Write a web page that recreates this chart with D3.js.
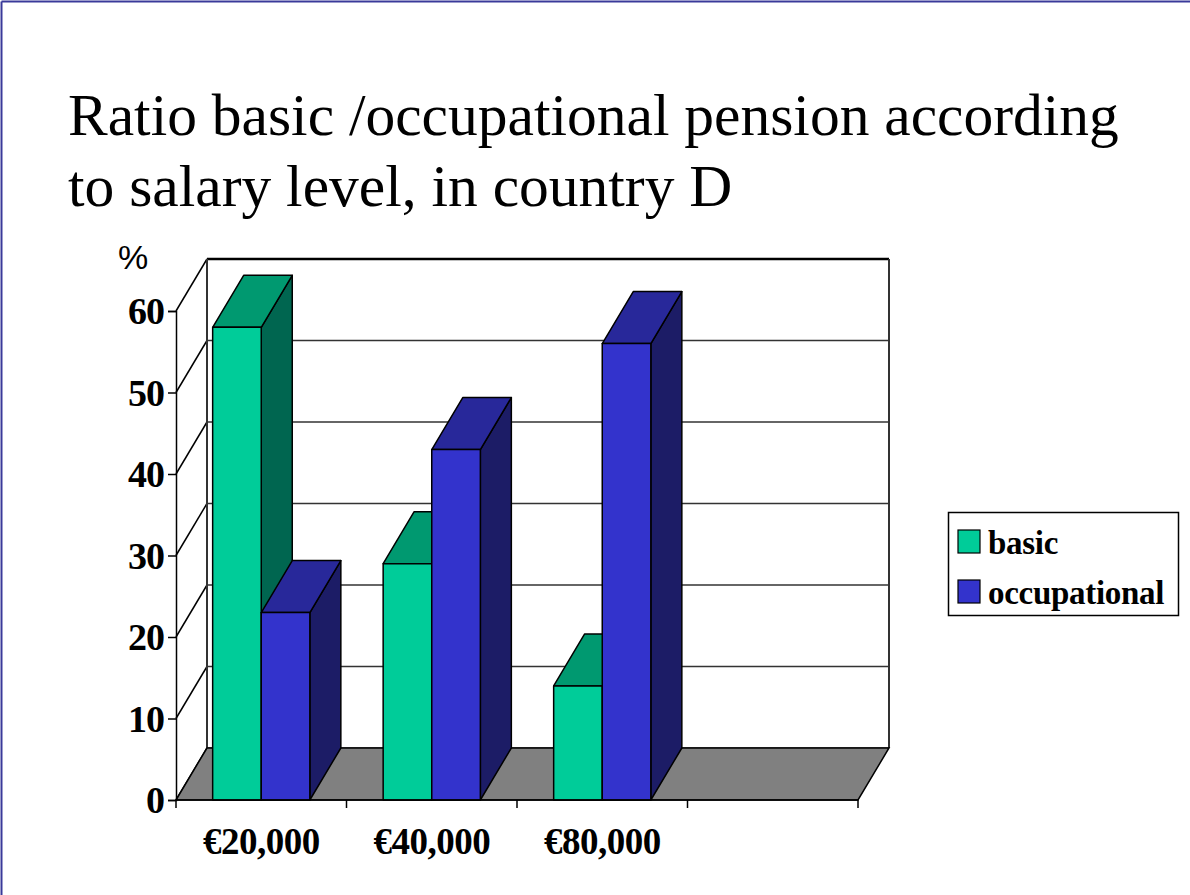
<!DOCTYPE html>
<html><head><meta charset="utf-8">
<script src="https://cdn.jsdelivr.net/npm/d3@7"></script>
<style>html,body{margin:0;padding:0;background:#fff;}svg{display:block;}</style>
</head><body>
<svg id="chart" width="1190" height="895"></svg>
<script>
const categories = ["€20,000", "€40,000", "€80,000", ""];
const seriesNames = ["basic", "occupational"];
const basicValues = [58, 29, 14, null];
const occupationalValues = [23, 43, 56, null];
const yTicks = [0, 10, 20, 30, 40, 50, 60];
const titleLines = ["Ratio basic /occupational pension according", "to salary level, in country D"];

const colors = {
  basic: {front: "#00CC99", top: "#009970", side: "#006650"},
  occupational: {front: "#3333CC", top: "#28289A", side: "#1C1C66"}
};

const svg = d3.select("#chart");
const serif = "'Liberation Serif','Times New Roman',serif";

// slide frame (top and left edges)
svg.append("line").attr("x1",1.5).attr("y1",1.5).attr("x2",1190).attr("y2",1.5).attr("stroke","#3a3a9a").attr("stroke-width",2);
svg.append("line").attr("x1",1.5).attr("y1",1.5).attr("x2",1.5).attr("y2",895).attr("stroke","#3a3a9a").attr("stroke-width",2);

// title
svg.append("g").selectAll("text").data(titleLines).join("text")
  .attr("x", 68).attr("y", (d,i) => 135 + i*71)
  .attr("font-family", serif).attr("font-size", 59.5).attr("fill", "#000")
  .text(d => d);

// scales
const x0 = d3.scaleBand().domain(categories).range([176, 858]);
const bw = x0.bandwidth();
const x1 = d3.scaleBand().domain(seriesNames).range([bw*0.215, bw*0.785]);
const y = d3.scaleLinear().domain([0, 60]).range([800, 311]);
const DX = 31, DY = -52;

const g = svg.append("g");

// back wall gridlines
g.selectAll(".grid").data(yTicks).join("line")
  .attr("x1", 176+DX).attr("x2", 858+DX)
  .attr("y1", d => y(d)+DY).attr("y2", d => y(d)+DY)
  .attr("stroke", d => d===60 ? "#000" : "#333").attr("stroke-width", d => d===60 ? 2.5 : 1.5);
// side wall diagonals
g.selectAll(".diag").data(yTicks).join("line")
  .attr("x1", 176).attr("x2", 176+DX)
  .attr("y1", d => y(d)).attr("y2", d => y(d)+DY)
  .attr("stroke", "#000").attr("stroke-width", 1.5);
// back wall verticals
[176+DX, 858+DX].forEach(xx => {
  g.append("line").attr("x1",xx).attr("x2",xx).attr("y1",y(60)+DY).attr("y2",y(0)+DY)
    .attr("stroke","#333").attr("stroke-width",2);
});

// floor
const floorPts = [[176, y(0)], [858, y(0)], [858+DX, y(0)+DY], [176+DX, y(0)+DY]];
g.append("polygon").attr("points", floorPts.map(p=>p.join(",")).join(" "))
  .attr("fill", "#808080").attr("stroke", "#000").attr("stroke-width", 1.5);

// bars
const barData = [];
categories.forEach((c, i) => {
  [["basic", basicValues[i]], ["occupational", occupationalValues[i]]].forEach(([s, v]) => {
    if (v != null) barData.push({cat: c, series: s, value: v});
  });
});
const bars = g.selectAll(".bar").data(barData).join("g");
bars.each(function(d) {
  const sel = d3.select(this);
  const xl = x0(d.cat) + x1(d.series), xr = xl + x1.bandwidth();
  const yt = y(d.value), yb = y(0);
  const c = colors[d.series];
  const poly = (pts, fill) => sel.append("polygon").attr("points", pts.map(q=>q.join(",")).join(" "))
    .attr("fill", fill).attr("stroke", "#000").attr("stroke-width", 1.5).attr("stroke-linejoin", "round");
  poly([[xr,yb],[xr+DX,yb+DY],[xr+DX,yt+DY],[xr,yt]], c.side);
  poly([[xl,yt],[xr,yt],[xr+DX,yt+DY],[xl+DX,yt+DY]], c.top);
  poly([[xl,yb],[xr,yb],[xr,yt],[xl,yt]], c.front);
});

// front y-axis
const yAxis = d3.axisLeft(y).tickValues(yTicks).tickSize(8).tickPadding(4).tickFormat(d3.format("d"));
const ya = svg.append("g").attr("transform", "translate(176,0)").call(yAxis);
ya.select(".domain").attr("stroke", "#000").attr("stroke-width", 1.5);
ya.selectAll(".tick line").attr("stroke", "#000").attr("stroke-width", 1.5);
ya.selectAll(".tick text").attr("font-family", serif).attr("font-weight", "bold")
  .attr("font-size", 38).attr("letter-spacing", "-1px").attr("fill", "#000").attr("dy", "0.34em");

// front x-axis
const xAxis = d3.axisBottom(x0).tickSize(0).tickPadding(0);
const xa = svg.append("g").attr("transform", "translate(0,800)").call(xAxis);
xa.select(".domain").remove();
xa.selectAll(".tick text").attr("font-family", serif).attr("font-weight", "bold")
  .attr("font-size", 37).attr("fill", "#000").attr("dy", 0).attr("y", 54).attr("letter-spacing", "-0.5px");
// category boundary ticks
const bounds = categories.map(c => x0(c)).concat([858]);
svg.append("g").selectAll("line").data(bounds).join("line")
  .attr("x1", d => d).attr("x2", d => d).attr("y1", 800).attr("y2", 808)
  .attr("stroke", "#000").attr("stroke-width", 1.5);
svg.append("line").attr("x1",176).attr("x2",858).attr("y1",800).attr("y2",800).attr("stroke","#000").attr("stroke-width",1.5);

// % label
svg.append("text").attr("x", 118).attr("y", 269).attr("font-family", "'Liberation Sans',Arial,sans-serif")
  .attr("font-size", 34).attr("fill", "#000").text("%");

// legend
const lg = svg.append("g");
lg.append("rect").attr("x", 948.5).attr("y", 512.5).attr("width", 230).attr("height", 103)
  .attr("fill", "#fff").attr("stroke", "#000").attr("stroke-width", 1.5);
seriesNames.forEach((s, i) => {
  lg.append("rect").attr("x", 958).attr("y", 530 + i*50).attr("width", 22).attr("height", 23)
    .attr("fill", colors[s].front).attr("stroke", "#000").attr("stroke-width", 1.2);
  lg.append("text").attr("x", 988).attr("y", 554 + i*50).attr("font-family", serif)
    .attr("font-weight", "bold").attr("font-size", 33).attr("letter-spacing", "-0.3px").attr("fill", "#000").text(s);
});
</script>
</body></html>
